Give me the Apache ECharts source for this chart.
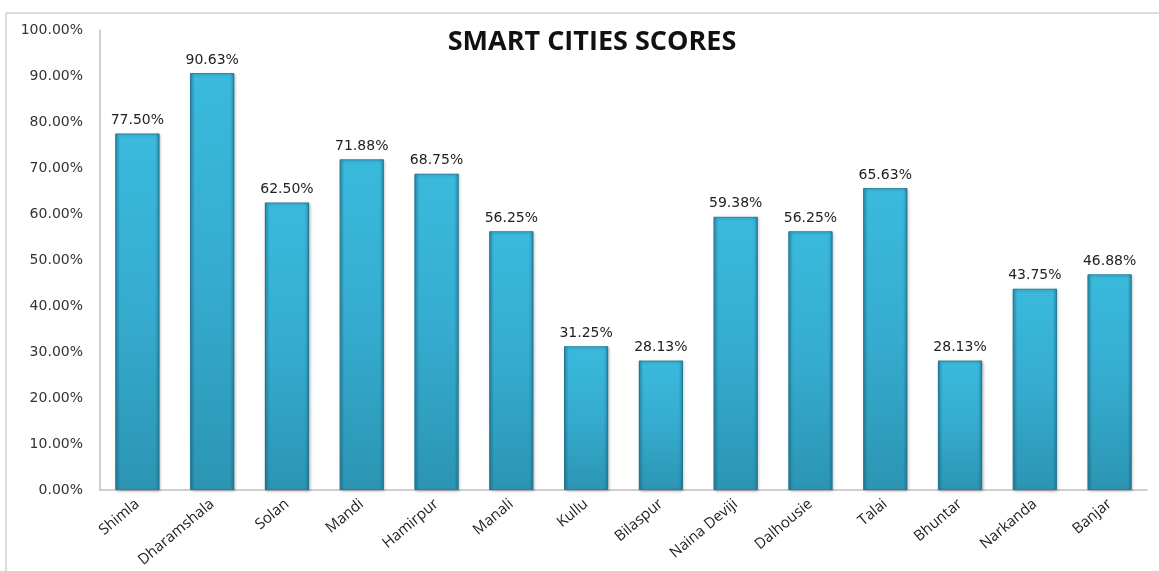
<!DOCTYPE html>
<html>
<head>
<meta charset="utf-8">
<script src="https://cdn.jsdelivr.net/npm/echarts@6/dist/echarts.min.js"></script>
<style>
  html, body { margin: 0; padding: 0; background: #fff; }
  #chart { width: 1159px; height: 571px; }
</style>
</head>
<body>
<div id="chart"></div>
<script>
// city names and their scores (%)
var cities = ['Shimla', 'Dharamshala', 'Solan', 'Mandi', 'Hamirpur', 'Manali', 'Kullu',
  'Bilaspur', 'Naina Deviji', 'Dalhousie', 'Talai', 'Bhuntar', 'Narkanda', 'Banjar']
var scores = [77.50, 90.63, 62.50, 71.88, 68.75, 56.25, 31.25, 28.13, 59.38, 56.25, 65.63, 28.13, 43.75, 46.88]

var chart = echarts.init(document.getElementById('chart'))

chart.setOption({
  animation: false,
  title: {
    text: 'SMART CITIES SCORES',
    left: 587,
    top: 24,
    textAlign: 'center',
    textStyle: {
      fontFamily: 'Open Sans',
      fontWeight: 700,
      fontSize: 27,
      color: '#111'
    }
  },
  graphic: [
    { type: 'line', shape: { x1: 6, y1: 13, x2: 1159, y2: 13 }, style: { stroke: '#cfcfcf', lineWidth: 1.5 } },
    { type: 'line', shape: { x1: 6, y1: 13, x2: 6, y2: 571 }, style: { stroke: '#cfcfcf', lineWidth: 1.5 } }
  ],
  grid: {
    left: 100,
    right: 12,
    top: 30,
    bottom: 81
  },
  xAxis: {
    type: 'category',
    data: cities,
    axisTick: { show: false },
    axisLine: { lineStyle: { color: '#c0c0c0', width: 1.5 } },
    axisLabel: {
      rotate: 40,
      margin: 12,
      interval: 0,
      fontFamily: 'Open Sans',
      fontSize: 15,
      color: '#222'
    }
  },
  yAxis: {
    type: 'value',
    min: 0,
    max: 100,
    interval: 10,
    splitLine: { show: false },
    axisTick: { show: false },
    axisLine: { show: true, lineStyle: { color: '#c0c0c0', width: 1.5 } },
    axisLabel: {
      margin: 17,
      fontFamily: 'DejaVu Sans',
      fontSize: 14,
      color: '#333',
      formatter: function (v) { return v.toFixed(2) + '%' }
    }
  },
  series: [{
    // base bar: bright top fading darker to the bottom
    type: 'bar',
    data: scores,
    barWidth: '59%',
    label: {
      show: true,
      position: 'top',
      distance: 6,
      fontFamily: 'DejaVu Sans',
      fontSize: 14,
      color: '#222',
      formatter: function (p) { return p.value.toFixed(2) + '%' }
    },
    itemStyle: {
      borderColor: '#2a86a3',
      borderWidth: 1,
      color: new echarts.graphic.LinearGradient(0, 0, 0, 1, [
        { offset: 0, color: '#3cbfe3' },
        { offset: 0.5, color: '#37b0d4' },
        { offset: 1, color: '#2d98b6' }
      ]),
      shadowColor: 'rgba(0,0,0,0.25)',
      shadowBlur: 3,
      shadowOffsetX: 1,
      shadowOffsetY: 1
    }
  }, {
    // overlay: darker side edges for the rounded look
    type: 'bar',
    data: scores,
    barWidth: '59%',
    barGap: '-100%',
    silent: true,
    itemStyle: {
      color: new echarts.graphic.LinearGradient(0, 0, 1, 0, [
        { offset: 0, color: 'rgba(20,90,115,0.45)' },
        { offset: 0.1, color: 'rgba(20,90,115,0.05)' },
        { offset: 0.9, color: 'rgba(20,90,115,0.05)' },
        { offset: 1, color: 'rgba(20,90,115,0.45)' }
      ])
    }
  }]
})
</script>
</body>
</html>
